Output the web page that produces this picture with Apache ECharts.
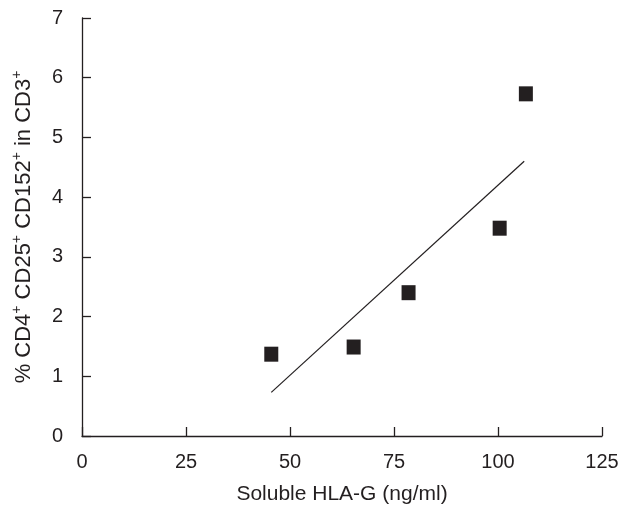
<!DOCTYPE html>
<html>
<head>
<meta charset="utf-8">
<script src="https://cdn.jsdelivr.net/npm/echarts@6/dist/echarts.min.js"></script>
<style>
  html, body { margin: 0; padding: 0; background: #fff; }
  #chart { width: 631px; height: 505px; }
</style>
</head>
<body>
<div id="chart"></div>
<script>
// measured points: soluble HLA-G (ng/ml) vs % CD4+CD25+CD152+ in CD3+
const hlaG = [45.5, 65.3, 78.5, 100.4, 106.7]
const cd152Pct = [1.37, 1.49, 2.40, 3.48, 5.73]

// regression line end points as drawn
const fitX = [45.5, 106.3]
const fitY = [0.73, 4.60]

const xTicks = [0, 25, 50, 75, 100, 125]
const yTicks = [0, 1, 2, 3, 4, 5, 6, 7]

const ink = '#231f20'
const font = 'Liberation Sans, Arial, sans-serif'

const chart = echarts.init(document.getElementById('chart'))

const axisCommon = {
  axisLine: { show: true, lineStyle: { color: ink, width: 1.3 } },
  axisTick: { show: true, inside: true, length: 9, lineStyle: { color: ink, width: 1.3 } },
  splitLine: { show: false },
  axisLabel: { color: ink, fontSize: 20, fontFamily: font }
}

chart.setOption({
  animation: false,
  backgroundColor: '#fff',
  grid: { left: 82, right: 29, top: 18, bottom: 69, outerBoundsMode: 'none', containLabel: false },
  xAxis: {
    type: 'value',
    min: xTicks[0],
    max: xTicks[xTicks.length - 1],
    interval: 25,
    name: 'Soluble HLA-G (ng/ml)',
    nameLocation: 'middle',
    nameGap: 48,
    nameTextStyle: { color: ink, fontSize: 21, fontFamily: font },
    ...axisCommon,
    axisLabel: { ...axisCommon.axisLabel, margin: 16 }
  },
  yAxis: {
    type: 'value',
    min: yTicks[0],
    max: yTicks[yTicks.length - 1],
    interval: 1,
    name: '% CD4{sup|+} CD25{sup|+} CD152{sup|+} in CD3{sup|+}',
    nameLocation: 'middle',
    nameGap: 44,
    nameTextStyle: {
      color: ink,
      fontSize: 22,
      fontFamily: font,
      rich: {
        sup: { fontSize: 14, color: ink, fontFamily: font, padding: [0, 0, 14, 0] }
      }
    },
    ...axisCommon,
    axisLabel: { ...axisCommon.axisLabel, margin: 19 }
  },
  series: [
    {
      type: 'scatter',
      symbol: 'rect',
      symbolSize: [14, 15],
      itemStyle: { color: ink, opacity: 1 },
      data: hlaG.map((x, i) => [x, cd152Pct[i]]),
      z: 3
    },
    {
      type: 'line',
      showSymbol: false,
      symbol: 'none',
      lineStyle: { color: ink, width: 1.2 },
      data: fitX.map((x, i) => [x, fitY[i]]),
      z: 2
    }
  ]
})
</script>
</body>
</html>
